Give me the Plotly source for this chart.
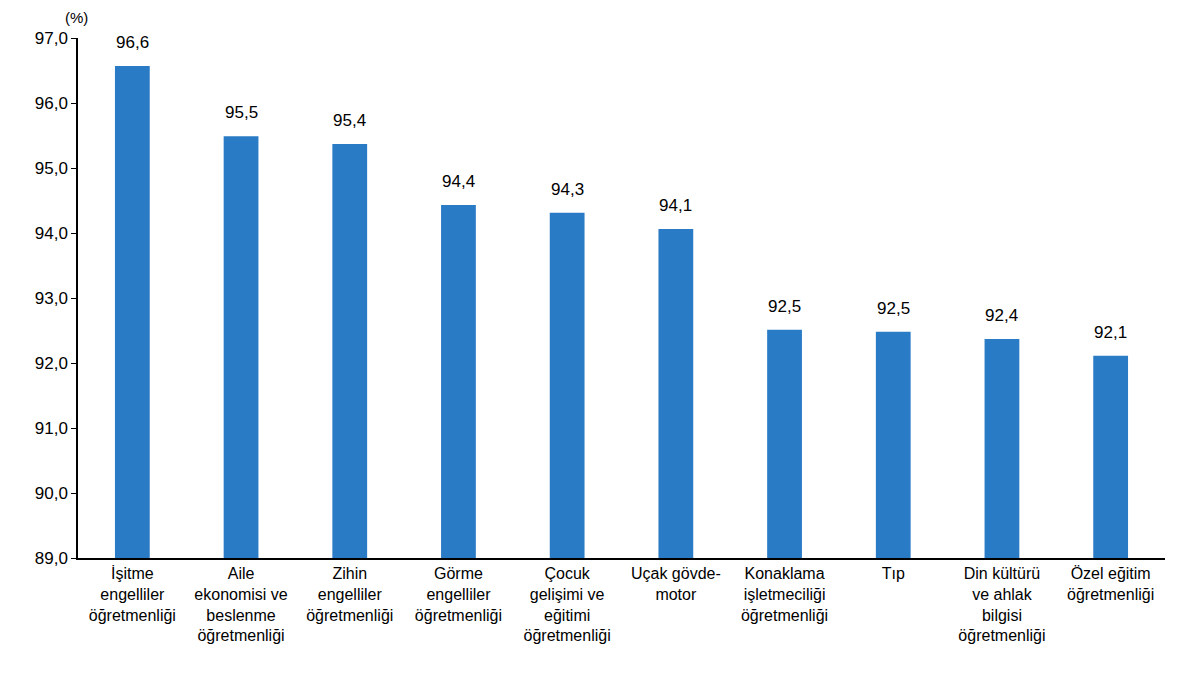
import plotly.graph_objects as go

# Bölümler ve oranlar (%)
categories = [
    "İşitme<br>engelliler<br>öğretmenliği",
    "Aile<br>ekonomisi ve<br>beslenme<br>öğretmenliği",
    "Zihin<br>engelliler<br>öğretmenliği",
    "Görme<br>engelliler<br>öğretmenliği",
    "Çocuk<br>gelişimi ve<br>eğitimi<br>öğretmenliği",
    "Uçak gövde-<br>motor",
    "Konaklama<br>işletmeciliği<br>öğretmenliği",
    "Tıp",
    "Din kültürü<br>ve ahlak<br>bilgisi<br>öğretmenliği",
    "Özel eğitim<br>öğretmenliği",
]
values = [96.57, 95.49, 95.37, 94.43, 94.31, 94.06, 92.51, 92.48, 92.37, 92.11]
labels = ["96,6", "95,5", "95,4", "94,4", "94,3", "94,1", "92,5", "92,5", "92,4", "92,1"]

y_ticks = [89, 90, 91, 92, 93, 94, 95, 96, 97]
y_tick_text = ["89,0", "90,0", "91,0", "92,0", "93,0", "94,0", "95,0", "96,0", "97,0"]
y_floor = 89

fig = go.Figure()
# bars start at the axis floor, so heights are measured from 89
fig.add_trace(go.Bar(
    x=categories, y=[v - y_floor for v in values], base=y_floor,
    marker=dict(color="#2A7BC6", line=dict(width=0)),
    width=0.32,
))

# value labels sit a bit higher above the bars than plotly's default
for cat, val, lab in zip(categories, values, labels):
    fig.add_annotation(
        x=cat, y=val, text=lab, showarrow=False,
        xanchor="center", yanchor="bottom", yshift=12,
        font=dict(size=17, color="black"),
    )

fig.update_yaxes(
    range=[89, 97], tickvals=y_ticks, ticktext=y_tick_text,
    showline=True, linecolor="black", linewidth=1.5,
    ticks="outside", ticklen=5, tickcolor="black",
    showgrid=False, zeroline=False,
    tickfont=dict(size=17, color="black"),
)
fig.update_xaxes(
    showline=True, linecolor="black", linewidth=1.5,
    ticks="", showgrid=False,
    tickfont=dict(size=16, color="black"),
    tickangle=0,
)
fig.add_annotation(
    text="(%)", xref="paper", yref="paper", x=0, y=1.0,
    xanchor="center", yanchor="bottom", xshift=-2, yshift=10, showarrow=False,
    font=dict(size=15, color="black"),
)
fig.update_layout(
    width=1200, height=676,
    margin=dict(l=70, r=43, t=30, b=126),
    plot_bgcolor="white", paper_bgcolor="white",
    font=dict(family="Liberation Sans, Arial, sans-serif", color="black"),
    showlegend=False,
)
fig.write_html("out.html")
